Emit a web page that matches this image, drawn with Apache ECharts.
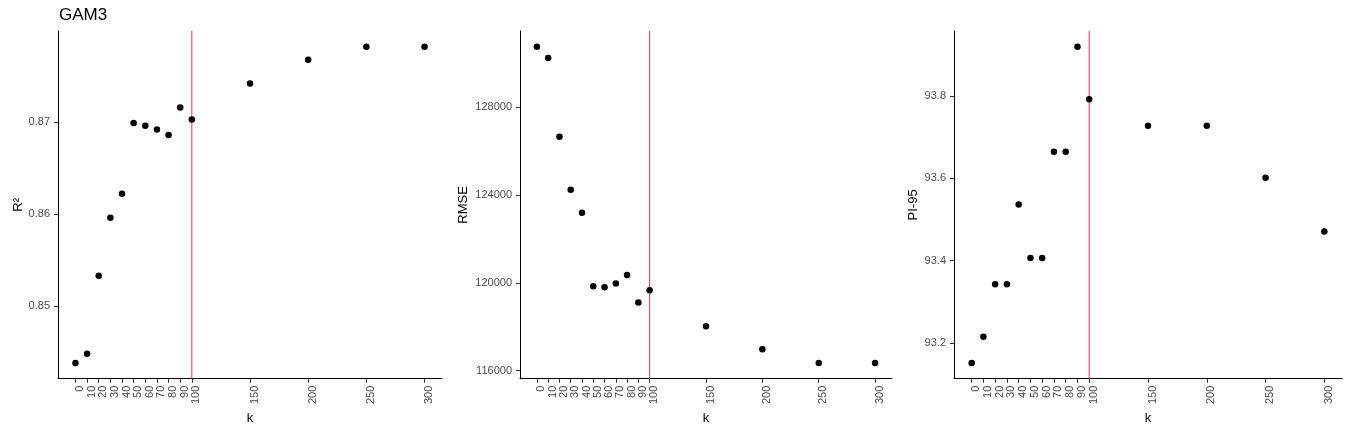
<!DOCTYPE html>
<html>
<head>
<meta charset="utf-8">
<script src="https://cdn.jsdelivr.net/npm/echarts@6/dist/echarts.min.js"></script>
<style>
html,body{margin:0;padding:0;background:#fff;}
#chart{width:1350px;height:430px;}
</style>
</head>
<body>
<div id="chart"></div>
<script>
const kValues = [0, 10, 20, 30, 40, 50, 60, 70, 80, 90, 100, 150, 200, 250, 300];
const r2Values = [0.8438, 0.8448, 0.8533, 0.8596, 0.8622, 0.8699, 0.8696, 0.8692, 0.8686, 0.8716, 0.8703, 0.8742, 0.8768, 0.8782, 0.8782];
const rmseValues = [130761, 130246, 126661, 124246, 123198, 119850, 119805, 119970, 120364, 119103, 119667, 118027, 116980, 116351, 116351];
const pi95Values = [93.1515, 93.2153, 93.3425, 93.3425, 93.5362, 93.4063, 93.4063, 93.664, 93.664, 93.9188, 93.7913, 93.7273, 93.7273, 93.601, 93.4703];
const xTickLabels = [0, 10, 20, 30, 40, 50, 60, 70, 80, 90, 100, 150, 200, 250, 300];
const r2Ticks = [0.85, 0.86, 0.87];
const rmseTicks = [116000, 120000, 124000, 128000];
const pi95Ticks = [93.2, 93.4, 93.6, 93.8];
const vlineK = 100;
const titleText = 'GAM3';
const yNames = ['R\u00B2', 'RMSE', 'PI-95'];
const xName = 'k';

function expandRange(arr) {
  const mn = Math.min(...arr), mx = Math.max(...arr);
  const pad = (mx - mn) * 0.05;
  return [mn - pad, mx + pad];
}
const xRange = expandRange(kValues);
const VLINE_COLOR = '#f0303a';

const panels = [
  {vals: r2Values, ticks: r2Ticks, name: yNames[0], left: 58, width: 384, nameGap: 33, fmt: v => v.toFixed(2)},
  {vals: rmseValues, ticks: rmseTicks, name: yNames[1], left: 520, width: 372, nameGap: 50, fmt: v => String(v)},
  {vals: pi95Values, ticks: pi95Ticks, name: yNames[2], left: 954, width: 388, nameGap: 34, fmt: v => v.toFixed(1)}
];

const grids = [], xAxes = [], yAxes = [], series = [];
panels.forEach((p, i) => {
  grids.push({left: p.left, top: 31, width: p.width, height: 348});
  xAxes.push({
    type: 'value', gridIndex: i, min: xRange[0], max: xRange[1],
    name: xName, nameLocation: 'middle', nameGap: 29,
    nameTextStyle: {fontFamily: 'Liberation Sans', fontSize: 13, color: '#000'},
    axisLine: {show: true, onZero: false, lineStyle: {color: '#000', width: 1}},
    axisTick: {show: true, length: 4, customValues: xTickLabels, lineStyle: {color: '#333'}},
    axisLabel: {rotate: 90, customValues: xTickLabels, margin: 7, verticalAlign: 'top', lineHeight: 9,
      fontFamily: 'Liberation Sans', fontSize: 11, color: '#4d4d4d'},
    splitLine: {show: false}
  });
  const yr = expandRange(p.vals);
  yAxes.push({
    type: 'value', gridIndex: i, min: yr[0], max: yr[1],
    name: p.name, nameLocation: 'middle', nameGap: p.nameGap, nameRotate: 90,
    nameTextStyle: {fontFamily: 'Liberation Sans', fontSize: 13, color: '#000'},
    axisLine: {show: true, onZero: false, lineStyle: {color: '#000', width: 1}},
    axisTick: {show: true, length: 4, customValues: p.ticks, lineStyle: {color: '#333'}},
    axisLabel: {customValues: p.ticks, margin: 8, formatter: p.fmt,
      fontFamily: 'Liberation Sans', fontSize: 11, color: '#4d4d4d'},
    splitLine: {show: false}
  });
  // vertical reference line at k = vlineK spanning the panel's y range
  series.push({
    type: 'line', xAxisIndex: i, yAxisIndex: i, z: 1, silent: true,
    showSymbol: false, symbol: 'none', color: VLINE_COLOR,
    lineStyle: {color: VLINE_COLOR, width: 1},
    data: [[vlineK, yr[0]], [vlineK, yr[1]]]
  });
  series.push({
    type: 'scatter', xAxisIndex: i, yAxisIndex: i, z: 5,
    symbolSize: 6.5, itemStyle: {color: '#000', opacity: 1},
    data: kValues.map((k, j) => [k, p.vals[j]])
  });
});

const chart = echarts.init(document.getElementById('chart'), null, {renderer: 'canvas'});
chart.setOption({
  animation: false,
  backgroundColor: '#fff',
  title: {text: titleText, left: 54, top: 2,
    textStyle: {fontFamily: 'Liberation Sans', fontSize: 17, fontWeight: 'normal', color: '#000'}},
  grid: grids, xAxis: xAxes, yAxis: yAxes, series: series
});
</script>
</body>
</html>
